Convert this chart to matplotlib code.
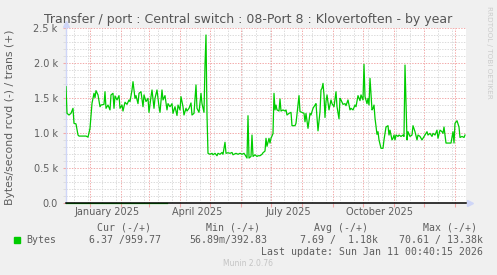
import matplotlib
matplotlib.use("Agg")
import matplotlib.pyplot as plt
from matplotlib.patches import Rectangle

W, H = 497, 275

# days counted from 2025-01-01, values in bytes/second (trans, +)
trans_days = [-24, -23, -21, -19, -17, -16, -14, -12, -11, -8, -4, -2, 0, 2, 4, 5, 6, 8, 10, 11,
              14, 15, 16, 18, 20, 21, 23, 24, 25, 27, 29, 30, 32, 33, 35, 37, 39, 40, 42, 43,
              45, 46, 48, 49, 51, 53, 54, 56, 58, 59, 61, 62, 64, 65, 67, 69, 70, 72, 73, 75,
              77, 78, 80, 82, 83, 85, 87, 88, 90, 91, 93, 94, 96, 97, 99, 101, 102, 104, 106, 107,
              109, 111, 112, 114, 115, 116, 117, 118, 120, 122, 123, 125, 127, 128, 130, 132, 133, 135, 136, 138,
              140, 142, 143, 146, 148, 150, 152, 154, 155, 157, 158, 159, 161, 162, 163, 165, 167, 168, 170, 172,
              173, 175, 176, 177, 179, 180, 181, 183, 184, 185, 186, 187, 189, 190, 191, 193, 195, 196, 197, 199,
              201, 202, 205, 206, 208, 209, 210, 212, 214, 215, 216, 218, 220, 221, 223, 225, 226, 228, 230, 231,
              232, 233, 234, 235, 236, 237, 239, 241, 242, 244, 246, 247, 249, 250, 251, 253, 255, 256, 258, 260,
              261, 263, 265, 266, 268, 270, 271, 273, 274, 275, 277, 278, 279, 280, 282, 283, 284, 285, 287, 288,
              289, 291, 293, 294, 296, 298, 299, 300, 302, 303, 304, 305, 306, 308, 309, 311, 313, 314, 315, 317,
              318, 320, 322, 323, 325, 327, 328, 330, 332, 333, 335, 337, 338, 340, 342, 343, 345, 347, 348, 350,
              352, 353, 354, 356, 358, 359, 361, 363, 364, 365, 367, 369, 370, 372, 374, 375]
trans_vals = [1663, 1281, 1257, 1281, 1353, 1138, 1130, 970, 955, 955, 955, 940, 1066, 1425, 1568, 1505, 1606, 1545, 1376, 1400,
              1410, 1591, 1353, 1400, 1330, 1545, 1568, 1353, 1530, 1473, 1535, 1353, 1400, 1314, 1440, 1410, 1473, 1450, 1616, 1735,
              1496, 1535, 1420, 1568, 1591, 1376, 1545, 1450, 1496, 1295, 1520, 1616, 1353, 1496, 1616, 1376, 1295, 1616, 1473, 1535,
              1330, 1420, 1376, 1420, 1281, 1376, 1250, 1400, 1330, 1520, 1376, 1257, 1353, 1314, 1353, 1430, 1257, 1281, 1688, 1353,
              1295, 1568, 1420, 1295, 1974, 2404, 1257, 708, 694, 708, 687, 708, 673, 708, 694, 720, 694, 866, 708, 716,
              708, 720, 687, 708, 694, 708, 694, 708, 687, 640, 1247, 640, 663, 970, 663, 687, 663, 673, 673, 694,
              716, 740, 923, 808, 923, 855, 923, 990, 1568, 1330, 1400, 1330, 1314, 1487, 1314, 1330, 1314, 1330, 1257, 1281,
              1295, 1104, 1104, 1138, 1400, 1535, 1305, 1295, 1281, 1160, 1281, 1066, 1281, 1257, 1353, 1400, 1420, 1030, 1305, 1616,
              1640, 1711, 1545, 1222, 1450, 1545, 1330, 1473, 1420, 1376, 1591, 1376, 1203, 1496, 1473, 1410, 1420, 1391, 1473, 1330,
              1353, 1330, 1400, 1376, 1535, 1463, 1545, 1473, 1983, 1520, 1420, 1496, 1400, 1783, 1330, 1353, 1400, 1213, 980, 1018,
              900, 780, 780, 900, 1085, 1104, 970, 1040, 900, 923, 970, 900, 970, 950, 970, 950, 970, 950, 1973, 900,
              1018, 950, 970, 1104, 1018, 900, 970, 950, 900, 923, 970, 1018, 970, 994, 950, 994, 970, 1040, 923, 1040,
              1018, 994, 1085, 855, 855, 855, 855, 1018, 855, 1138, 1175, 1085, 935, 950, 935, 970]

# rcvd (-) is tiny, only visible as a sliver under the zero line
rcvd_days = [-24, 77]
rcvd_vals = [-8, -8]

month_starts = [0, 31, 59, 90, 120, 151, 181, 212, 243, 273, 304, 334, 365]
label_months = [0, 90, 181, 273]
month_labels = ["January 2025", "April 2025", "July 2025", "October 2025"]
ytick_vals = [0, 500, 1000, 1500, 2000, 2500]
ytick_labels = ["0.0", "0.5 k", "1.0 k", "1.5 k", "2.0 k", "2.5 k"]

legend_head = ["Cur (-/+)", "Min (-/+)", "Avg (-/+)", "Max (-/+)"]
legend_vals = ["6.37 /959.77", "56.89m/392.83", "7.69 /  1.18k", "70.61 / 13.38k"]

fontc = "#5e5e5e"
mgrid = "#f2a8a8"
ngrid = "#dadada"
axisc = "#cfd6f8"

fig = plt.figure(figsize=(W / 100, H / 100), dpi=100)
fig.patch.set_facecolor("#f0f0f0")
ax = fig.add_axes([66 / W, (H - 202.7) / H, 400 / W, 174.4 / H])
ax.set_facecolor("white")

ax.set_xlim(-24, 376)
ax.set_ylim(0, 2500)

ax.set_xticks(month_starts)
ax.set_xticks(range(-16, 376, 14), minor=True)
ax.set_xticklabels([])
ax.set_yticks(ytick_vals)
ax.set_yticks(range(0, 2501, 100), minor=True)
ax.set_yticklabels(ytick_labels, fontsize=7, color=fontc)
ax.tick_params(axis="y", which="major", length=2, color=mgrid, pad=4)
ax.tick_params(axis="y", which="minor", length=2, color=ngrid)
ax.tick_params(axis="x", which="major", length=3, color=mgrid, direction="out")
ax.tick_params(axis="x", which="minor", length=0)

ax.grid(which="minor", color=ngrid, linestyle=(0, (1.4, 1.4)), lw=0.7)
ax.grid(which="major", color=mgrid, linestyle=(0, (1.4, 1.4)), lw=0.7)
ax.set_axisbelow(True)

for s in ["top", "right", "bottom"]:
    ax.spines[s].set_visible(False)
ax.spines["left"].set_color(axisc)
ax.spines["left"].set_linewidth(1.0)

for d, lab in zip(label_months, month_labels):
    ax.text(d + 17, -0.055, lab, transform=ax.get_xaxis_transform(),
            ha="center", va="center", fontsize=7, color=fontc)

ax.plot(trans_days, trans_vals, color="#00cc00", lw=0.9, zorder=3)
ax.plot(rcvd_days, rcvd_vals, color="#00cc00", lw=0.9, clip_on=False, zorder=3)
ax.axhline(0, color="black", lw=1.1, zorder=4, clip_on=False)

# axis arrows
ax.plot([0], [1 + 4 / 174.4], marker="^", ms=4, color=axisc, transform=ax.transAxes, clip_on=False)
ax.plot([1 + 4 / 400], [0], marker=">", ms=4, color=axisc, transform=ax.transAxes, clip_on=False)


def px(x, y):
    return x / W, 1 - y / H


fig.text(*px(248, 19), "Transfer / port : Central switch : 08-Port 8 : Klovertoften - by year",
         ha="center", va="center", fontsize=9, color="#555555")
fig.text(*px(10, 117), "Bytes/second rcvd (-) / trans (+)", rotation=90,
         ha="center", va="center", fontsize=7.8, color=fontc)
fig.text(*px(489, 52), "RRDTOOL / TOBI OETIKER", rotation=270,
         ha="center", va="center", fontsize=5.2, color="#cccccc")

mono = "DejaVu Sans Mono"
head_right = [151, 260, 368, 477]
val_right = [161, 267, 378, 483]
for xr, t in zip(head_right, legend_head):
    fig.text(*px(xr, 228), t, ha="right", va="center", fontsize=7.1, family=mono, color=fontc)
for xr, t in zip(val_right, legend_vals):
    fig.text(*px(xr, 240), t, ha="right", va="center", fontsize=7.1, family=mono, color=fontc)
fig.patches.append(Rectangle(px(14, 243), 6 / W, 6 / H, transform=fig.transFigure,
                             color="#00cc00", figure=fig))
fig.text(*px(26, 240), "Bytes", ha="left", va="center", fontsize=7.1, family=mono, color=fontc)
fig.text(*px(483, 252), "Last update: Sun Jan 11 00:40:15 2026", ha="right", va="center",
         fontsize=7.1, family=mono, color=fontc)
fig.text(*px(248, 264), "Munin 2.0.76", ha="center", va="center", fontsize=5.5, color="#c4c4c4")

fig.savefig("out.png", dpi=100, facecolor=fig.get_facecolor())
